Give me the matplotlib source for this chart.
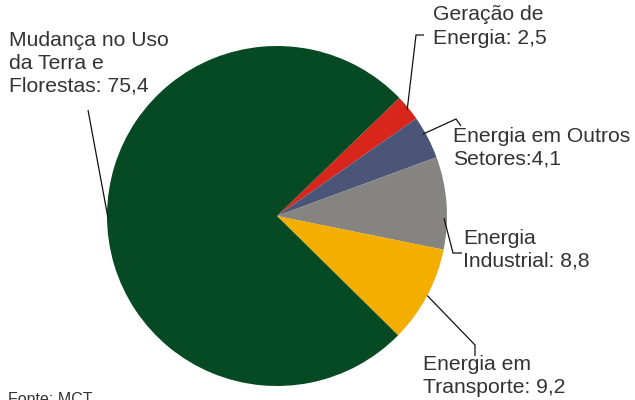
import numpy as np
import matplotlib
matplotlib.use("Agg")
import matplotlib.pyplot as plt

plt.rcParams['font.family'] = ['Liberation Sans', 'DejaVu Sans']

labels = ["Geração de\nEnergia: 2,5",
          "Energia em Outros\nSetores:4,1",
          "Energia\nIndustrial: 8,8",
          "Energia em\nTransporte: 9,2",
          "Mudança no Uso\nda Terra e\nFlorestas: 75,4"]
values = [2.5, 4.1, 8.8, 9.2, 75.4]
colors = ["#d9261c", "#4a5578", "#858480", "#f4ae00", "#054a23"]

W, H = 635, 400
fig = plt.figure(figsize=(W / 100, H / 100), dpi=100)
ax = fig.add_axes([0, 0, 1, 1])

cx, cy, R = 277, H - 216, 170
ax.pie(values, colors=colors, startangle=44, counterclock=False,
       center=(cx, cy), radius=R, wedgeprops=dict(linewidth=0))
ax.set_xlim(0, W)
ax.set_ylim(0, H)
ax.axis('off')

txt_col = "#333333"
fs = 15.2
# label text positions (left, cap-top in pixel coords from top)
text_pos = [(433, 10), (453, 131), (463, 233), (423, 359), (9, 35)]
# leader lines: anchor angle on pie (deg), then elbow points (pixel coords from top)
anchors = [39.2, 29.3, -0.7, -27.9, 180.7]
elbows = [[(416, 35), (424, 35)],
          [(456, 119), (461, 126)],
          [(453, 253), (462, 253)],
          [(475, 345), (475, 356)],
          [(88, 110)]]
anchor_r = [168, 167, 167, 170, 169]

for lab, (tx, ty) in zip(labels, text_pos):
    ax.text(tx, H - ty + 4.5, lab, fontsize=fs, color=txt_col, ha='left', va='top',
            linespacing=1.28)

for ang, rr, el in zip(anchors, anchor_r, elbows):
    a = np.deg2rad(ang)
    xs = [cx + rr * np.cos(a)] + [p[0] for p in el]
    ys = [cy + rr * np.sin(a)] + [H - p[1] for p in el]
    ax.plot(xs, ys, color="#111111", linewidth=0.9, solid_capstyle='butt')

ax.text(8, H - 395 + 3, "Fonte: MCT", fontsize=11.5, color=txt_col, ha='left', va='top')

fig.savefig("out.png", dpi=100)
